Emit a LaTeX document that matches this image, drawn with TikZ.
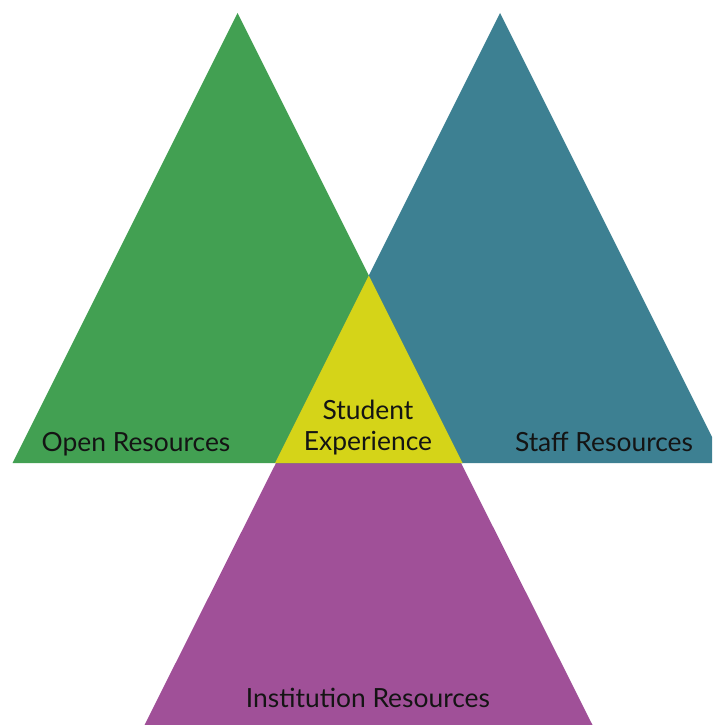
\documentclass[tikz,border=0pt]{standalone}
\usepackage{fontspec}
\setmainfont{Lato}
\definecolor{cgreen}{RGB}{66,160,82}
\definecolor{cteal}{RGB}{61,128,146}
\definecolor{cyellow}{RGB}{213,212,24}
\definecolor{cmag}{RGB}{160,80,152}
\definecolor{ctext}{RGB}{20,20,20}
\tikzset{lbl/.style={anchor=base,inner sep=0pt,text=ctext,font=\fontsize{26.4}{31}\selectfont}}
\begin{document}
\begin{tikzpicture}[x=1pt,y=-1pt]
\useasboundingbox (0,0) rectangle (712,725);
\begin{scope}
\clip (0,0) rectangle (712,725);
\fill[cmag] (276,463) -- (461,463) -- (592.5,725) -- (144.5,725) -- cycle;
\fill[cgreen] (237.5,13) -- (462.5,463) -- (12.5,463) -- cycle;
\fill[cteal] (500,13) -- (725,463) -- (275,463) -- cycle;
\fill[cyellow] (368.75,275.5) -- (462.5,463) -- (275,463) -- cycle;
\end{scope}
\node[lbl] (open) at (136,451) {Open Resources};
\node[lbl] (staff) at (604,451) {Staff Resources};
\node[lbl] (stu) at (368,419) {Student};
\node[lbl] (exp) at (368,450) {Experience};
\node[lbl] (inst) at (368,707) {Institution Resources};
\end{tikzpicture}
\end{document}
